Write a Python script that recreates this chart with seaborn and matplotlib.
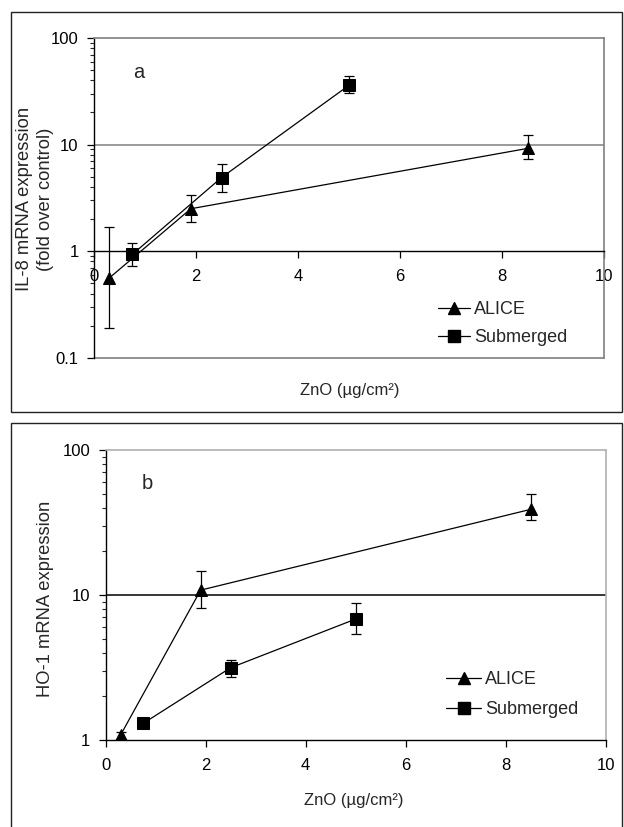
import matplotlib
matplotlib.use("Agg")
import matplotlib.pyplot as plt
import matplotlib.ticker as mticker
from matplotlib.patches import Rectangle
from matplotlib.lines import Line2D
import seaborn as sns
import pandas as pd
import numpy as np

# ---------------- data ----------------
series_names = ["ALICE", "Submerged"]

a_alice_x = [0.3, 1.9, 8.5]
a_alice_y = [0.56, 2.5, 9.2]
a_alice_lo = [0.19, 1.87, 7.4]
a_alice_hi = [1.69, 3.38, 12.2]

a_sub_x = [0.75, 2.5, 5.0]
a_sub_y = [0.93, 4.9, 36.0]
a_sub_lo = [0.72, 3.62, 30.4]
a_sub_hi = [1.19, 6.57, 44.3]

b_alice_x = [0.3, 1.9, 8.5]
b_alice_y = [1.08, 10.8, 39.0]
b_alice_lo = [0.95, 8.1, 32.9]
b_alice_hi = [1.14, 14.7, 49.7]

b_sub_x = [0.75, 2.5, 5.0]
b_sub_y = [1.3, 3.15, 6.83]
b_sub_lo = [1.3, 2.73, 5.36]
b_sub_hi = [1.3, 3.56, 8.85]

x_ticks = [0, 2, 4, 6, 8, 10]
a_yticks = [0.1, 1, 10, 100]
b_yticks = [1, 10, 100]
a_ylabel = "IL-8 mRNA expression\n(fold over control)"
b_ylabel = "HO-1 mRNA expression"
x_label = "ZnO (µg/cm²)"

# ---------------- style ----------------
sns.set_style("white")
plt.rcParams["font.family"] = ["Liberation Sans", "DejaVu Sans"]
FS = 12
FS_LEG = 13
FS_YL = 13.2

W, H = 624, 827
fig = plt.figure(figsize=(W / 100, H / 100), dpi=100)

def fx(px):
    return px / W

def fy(py):
    return 1 - py / H

# outer frames
fig.patches.append(Rectangle((fx(11), fy(412)), fx(622) - fx(11), fy(12) - fy(412),
                             transform=fig.transFigure, fill=False, ec="#222222", lw=1.0))
fig.patches.append(Rectangle((fx(11), fy(830)), fx(622) - fx(11), fy(423) - fy(830),
                             transform=fig.transFigure, fill=False, ec="#222222", lw=1.0))

markers = {"ALICE": "^", "Submerged": "s"}
msizes = {"ALICE": 9, "Submerged": 8.5}

def make_df(ax_, ay_, alo, ahi, sx, sy, slo, shi):
    rows = []
    for x, y, lo, hi in zip(ax_, ay_, alo, ahi):
        rows.append(dict(x=x, y=y, lo=lo, hi=hi, series="ALICE"))
    for x, y, lo, hi in zip(sx, sy, slo, shi):
        rows.append(dict(x=x, y=y, lo=lo, hi=hi, series="Submerged"))
    return pd.DataFrame(rows)

def draw_panel(ax, df, ylim, yticks, grid_color, border_color, cross_y):
    ax.set_yscale("log")
    for name in series_names:
        sub = df[df.series == name]
        ax.errorbar(sub.x, sub.y, yerr=[sub.y - sub.lo, sub.hi - sub.y], fmt="none",
                    ecolor="black", elinewidth=0.9, capsize=3.5, capthick=0.9, zorder=3)
    sns.lineplot(data=df, x="x", y="y", hue="series", style="series",
                 palette={"ALICE": "black", "Submerged": "black"},
                 markers=markers, dashes=False, sort=False, estimator=None,
                 linewidth=0.9, markersize=9, markeredgecolor="black",
                 legend=False, ax=ax, zorder=4)
    for line in ax.get_lines():
        if line.get_marker() == "s":
            line.set_markersize(8.5)
    ax.set_xlim(0, 10)
    ax.set_ylim(*ylim)
    ax.set_xticks(x_ticks)
    ax.set_xticklabels([str(t) for t in x_ticks])
    ax.set_yticks(yticks)
    ax.set_yticklabels([("%g" % t) for t in yticks])
    ax.yaxis.set_minor_locator(mticker.LogLocator(base=10, subs=np.arange(2, 10)))
    ax.yaxis.set_minor_formatter(mticker.NullFormatter())
    ax.tick_params(axis="both", which="major", direction="out", length=5, width=0.9,
                   color="black", labelsize=FS, labelcolor="black")
    ax.tick_params(axis="x", pad=8)
    ax.tick_params(axis="y", which="minor", direction="out", length=3, width=0.8, left=True)
    ax.tick_params(axis="y", pad=6)
    ax.tick_params(axis="x", which="minor", bottom=False)
    ax.xaxis.set_ticks_position("bottom")
    ax.yaxis.set_ticks_position("left")
    ax.spines["left"].set_color("black")
    ax.spines["left"].set_linewidth(1.0)
    ax.spines["bottom"].set_position(("data", cross_y))
    ax.spines["bottom"].set_color("black")
    ax.spines["bottom"].set_linewidth(1.0)
    ax.spines["top"].set_color(border_color)
    ax.spines["right"].set_color(border_color)
    ax.spines["top"].set_linewidth(1.2)
    ax.spines["right"].set_linewidth(1.2)
    for g in yticks:
        if ylim[0] < g < ylim[1] and g != cross_y:
            ax.axhline(g, color=grid_color, lw=1.1, zorder=1)
    if ylim[0] != cross_y:
        ax.axhline(ylim[0], color=border_color, lw=1.2, zorder=1, clip_on=False)
    ax.set_xlabel("")
    ax.set_ylabel("")
    ax.patch.set_alpha(0)

def add_legend(ax, left_px, top_px, hl, spacing):
    handles = [Line2D([], [], color="black", lw=0.9, marker=markers[n], markersize=msizes[n] - 0.5,
                      markerfacecolor="black") for n in series_names]
    ax.legend(handles, series_names, loc="upper left", frameon=False, fontsize=FS_LEG,
              bbox_to_anchor=(fx(left_px), fy(top_px)), bbox_transform=fig.transFigure,
              borderaxespad=0, borderpad=0, handlelength=hl, handletextpad=0.2,
              labelspacing=spacing)

# ---------------- panel a ----------------
ax1 = fig.add_axes([fx(94), fy(357.7), fx(604) - fx(94), fy(38) - fy(357.7)])
df_a = make_df(a_alice_x, a_alice_y, a_alice_lo, a_alice_hi, a_sub_x, a_sub_y, a_sub_lo, a_sub_hi)
draw_panel(ax1, df_a, (0.1, 100), a_yticks, "#7f7f7f", "#7f7f7f", 1)
add_legend(ax1, 438, 301.5, 1.8, 0.6)
fig.text(fx(139), fy(72), "a", fontsize=14.5, ha="center", va="center")
fig.text(fx(35), fy(199), a_ylabel, rotation=90, fontsize=FS_YL, ha="center", va="center",
         linespacing=1.3)
fig.text(fx(350), fy(390), x_label, fontsize=FS, ha="center", va="center")

# ---------------- panel b ----------------
ax2 = fig.add_axes([fx(105.5), fy(740), fx(606) - fx(105.5), fy(450) - fy(740)])
df_b = make_df(b_alice_x, b_alice_y, b_alice_lo, b_alice_hi, b_sub_x, b_sub_y, b_sub_lo, b_sub_hi)
draw_panel(ax2, df_b, (1, 100), b_yticks, "black", "#b0b0b0", 1)
ax2.spines["bottom"].set_position(("outward", 0))
add_legend(ax2, 446, 671, 1.95, 0.72)
fig.text(fx(147), fy(484), "b", fontsize=14.5, ha="center", va="center")
fig.text(fx(46), fy(599), b_ylabel, rotation=90, fontsize=FS_YL, ha="center", va="center")
fig.text(fx(354), fy(800), x_label, fontsize=FS, ha="center", va="center")

fig.savefig("out.png", dpi=100)
